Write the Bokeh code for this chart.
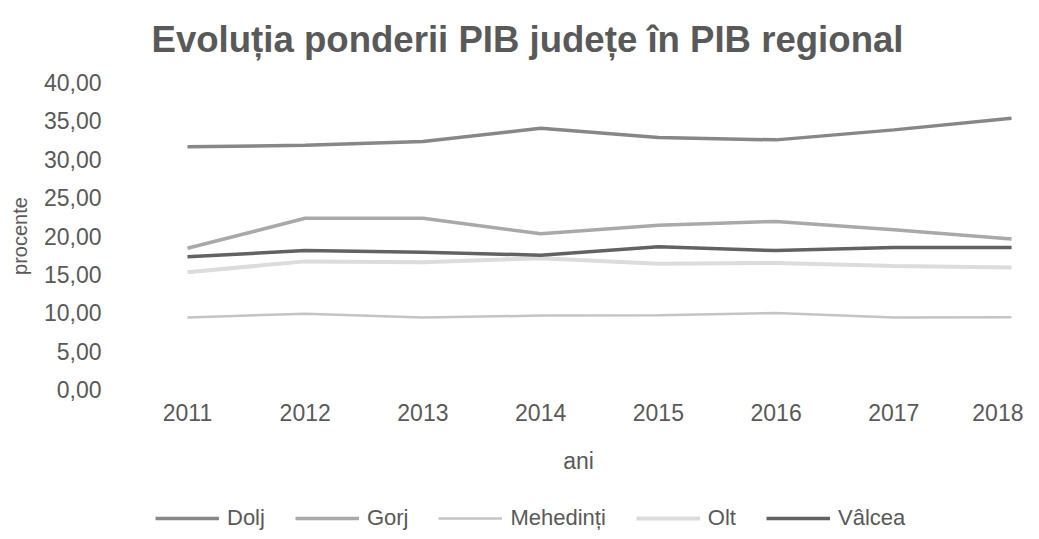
from bokeh.plotting import figure
from bokeh.layouts import column
from bokeh.models import Legend, LegendItem, FixedTicker, Range1d, Title
from bokeh.embed import file_html
from bokeh.resources import INLINE

years = [2011, 2012, 2013, 2014, 2015, 2016, 2017, 2018]
dolj = [31.6, 31.8, 32.3, 34.0, 32.8, 32.5, 33.8, 35.3]
gorj = [18.4, 22.3, 22.3, 20.3, 21.4, 21.9, 20.8, 19.6]
mehedinti = [9.4, 9.9, 9.4, 9.65, 9.7, 10.0, 9.4, 9.45]
olt = [15.3, 16.7, 16.6, 17.1, 16.4, 16.5, 16.1, 15.9]
valcea = [17.3, 18.1, 17.9, 17.5, 18.6, 18.1, 18.5, 18.5]

series_names = ["Dolj", "Gorj", "Mehedinți", "Olt", "Vâlcea"]
series_values = [dolj, gorj, mehedinti, olt, valcea]
series_colors = ["#878787", "#a9a9a9", "#c4c4c4", "#dcdcdc", "#626262"]
series_widths = [3.5, 3.5, 2.5, 4, 3.5]

y_ticks = [0, 5, 10, 15, 20, 25, 30, 35, 40]
y_tick_labels = ["0,00", "5,00", "10,00", "15,00", "20,00", "25,00", "30,00", "35,00", "40,00"]
x_tick_labels = [str(y) for y in years]

FONT = "Liberation Sans"
GRAY = "#595959"

p = figure(width=1023, height=483, output_backend="svg", toolbar_location=None,
           x_range=Range1d(2010.55, 2018.093), y_range=Range1d(-1, 41),
           min_border_left=134, min_border_right=1, min_border_top=74, min_border_bottom=86)
p.outline_line_color = None
p.xgrid.visible = False
p.ygrid.visible = False

title = Title(text="Evoluția ponderii PIB județe în PIB regional", align="left", offset=17,
              text_font=FONT, text_font_size="36.6px", text_font_style="bold",
              text_color=GRAY, standoff=30)
p.add_layout(title, "above")

for ax in (p.xaxis[0], p.yaxis[0]):
    ax.axis_line_color = None
    ax.major_tick_line_color = None
    ax.minor_tick_line_color = None
    ax.major_tick_out = 0
    ax.major_tick_in = 0
    ax.major_label_text_font = FONT
    ax.major_label_text_color = GRAY
    ax.major_label_text_font_size = "23px"
    ax.axis_label_text_font = FONT
    ax.axis_label_text_color = GRAY
    ax.axis_label_text_font_style = "normal"

p.xaxis.ticker = FixedTicker(ticks=years)
p.xaxis.major_label_overrides = {y: l for y, l in zip(years, x_tick_labels)}
p.xaxis.major_label_standoff = 6
p.xaxis.axis_label = "ani"
p.xaxis.axis_label_text_font_size = "23px"
p.xaxis.axis_label_standoff = 24

p.yaxis.ticker = FixedTicker(ticks=y_ticks)
p.yaxis.major_label_overrides = {t: l for t, l in zip(y_ticks, y_tick_labels)}
p.yaxis.major_label_standoff = 33
p.yaxis.axis_label = "procente"
p.yaxis.axis_label_text_font_size = "20px"
p.yaxis.axis_label_standoff = 10

for name, vals, col, w in zip(series_names, series_values, series_colors, series_widths):
    p.line(years, vals, line_color=col, line_width=w)

# legend strip below the chart (its sample lines lie outside its visible range)
pl = figure(width=1023, height=48, output_backend="svg", toolbar_location=None,
            x_range=Range1d(0, 1), y_range=Range1d(0, 1),
            x_axis_location=None, y_axis_location=None,
            min_border_left=134, min_border_right=1, min_border_top=0, min_border_bottom=0)
pl.outline_line_color = None
pl.xgrid.visible = False
pl.ygrid.visible = False

items = []
for name, col, w in zip(series_names, series_colors, series_widths):
    r = pl.line(x=[-5, -4], y=[-5, -4], line_color=col, line_width=w)
    items.append(LegendItem(label=name, renderers=[r]))

legend = Legend(items=items, orientation="horizontal", location=(21, 0),
                label_text_font=FONT, label_text_font_size="22px", label_text_color=GRAY,
                glyph_width=64, glyph_height=20, label_standoff=8, spacing=30,
                padding=0, margin=0, border_line_color=None, background_fill_alpha=0)
pl.add_layout(legend, "center")

layout = column(p, pl, spacing=0)
open("out.html", "w").write(file_html(layout, INLINE))
